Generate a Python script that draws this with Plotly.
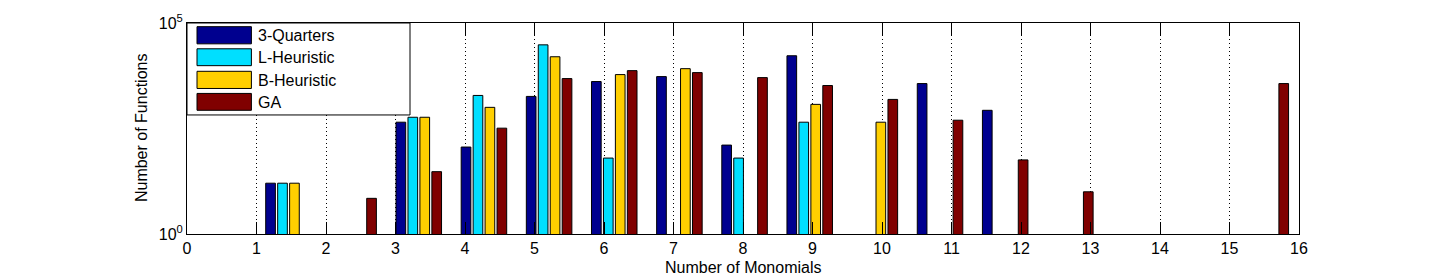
import plotly.graph_objects as go

# ---------------- data ----------------
monomials = list(range(1, 17))
series_names = ["3-Quarters", "L-Heuristic", "B-Heuristic", "GA"]
quarters3 = [16, None, 446, 115, 1820, 4100, 5370, 128, 16750, None, 3670, 853, None, None, None, None]
l_heuristic = [16, None, 584, 1920, 30350, 63, None, 63, 446, None, None, None, None, None, None, None]
b_heuristic = [16, None, 584, 1003, 15850, 5990, 8280, None, 1180, 446, None, None, None, None, None, None]
ga = [None, 7, 30, 322, 4820, 7430, 6670, 5080, 3300, 1546, 497, 57, 10, None, None, 3670]
x_ticks = list(range(0, 17))
y_tickvals = [1, 100000]
y_ticktext = ["10<sup>0</sup>", "10<sup>5</sup>"]

# ---------------- styles ----------------
colors = ["#00008F", "#00DFFF", "#FFCF00", "#800000"]
FONT = "Liberation Sans, Arial, Helvetica, sans-serif"
FS = 16

# group centres on the drawn axis (as in the original figure)
x_pos = [0.5225 + 0.9375 * n for n in monomials]

fig = go.Figure()
for name, vals, col in zip(series_names, [quarters3, l_heuristic, b_heuristic, ga], colors):
    fig.add_trace(go.Bar(
        x=x_pos, y=vals, name=name,
        marker=dict(color=col, line=dict(color="black", width=1)),
        showlegend=False,
    ))

# plot-area geometry in pixels
W, H = 1435, 279
L, R, T, B = 187.3, 1299.3, 21.3, 234.0
pw, ph = R - L, B - T


def px_x(x):
    return (x - L) / pw


def px_y(y):
    return (B - y) / ph


shapes = []
annotations = []
# legend box
shapes.append(dict(type="rect", xref="paper", yref="paper",
                   x0=px_x(L), x1=px_x(410.3), y0=px_y(114.0), y1=px_y(T),
                   fillcolor="white", line=dict(color="black", width=1), layer="above"))
rows = [(25.0, 42.3), (47.3, 64.3), (70.0, 87.3), (92.3, 109.3)]
for (t, b), name, col in zip(rows, series_names, colors):
    shapes.append(dict(type="rect", xref="paper", yref="paper",
                       x0=px_x(197.3), x1=px_x(251.7), y0=px_y(b), y1=px_y(t),
                       fillcolor=col, line=dict(color="black", width=1), layer="above"))
    annotations.append(dict(xref="paper", yref="paper", x=px_x(256.5), y=px_y((t + b) / 2 + 0.5),
                            text=name, showarrow=False, xanchor="left", yanchor="middle",
                            font=dict(family=FONT, size=FS, color="black")))

# axis titles
annotations.append(dict(xref="paper", yref="paper", x=0.5, y=px_y(268),
                        text="Number of Monomials", showarrow=False,
                        xanchor="center", yanchor="middle",
                        font=dict(family=FONT, size=FS, color="black")))
annotations.append(dict(xref="paper", yref="paper", x=px_x(142.5), y=px_y(127),
                        text="Number of Functions", showarrow=False, textangle=-90,
                        xanchor="center", yanchor="middle",
                        font=dict(family=FONT, size=FS, color="black")))

fig.update_layout(
    width=W, height=H,
    margin=dict(l=L, r=W - R, t=T, b=H - B, pad=0),
    paper_bgcolor="white", plot_bgcolor="white",
    barmode="group", bargap=0.2665, bargroupgap=0.19,
    font=dict(family=FONT, size=FS, color="black"),
    shapes=shapes, annotations=annotations,
    xaxis=dict(range=[0, 16], tickvals=x_ticks, ticktext=[str(v) for v in x_ticks],
               ticks="inside", ticklen=12, tickcolor="black", tickwidth=1,
               showline=True, linecolor="black", linewidth=1, mirror="ticks",
               showgrid=True, gridcolor="black", griddash="1px,3px", gridwidth=1,
               zeroline=False, tickfont=dict(family=FONT, size=FS)),
    yaxis=dict(type="log", range=[0, 5], tickvals=y_tickvals, ticktext=y_ticktext,
               ticks="inside", ticklen=6, tickcolor="black",
               showline=True, linecolor="black", linewidth=1, mirror="ticks",
               showgrid=False, zeroline=False, tickfont=dict(family=FONT, size=FS)),
)

fig.write_html(
    "out.html",
    config={"displayModeBar": False},
    post_script="document.body.style.margin='0';document.body.style.overflow='hidden';",
)
